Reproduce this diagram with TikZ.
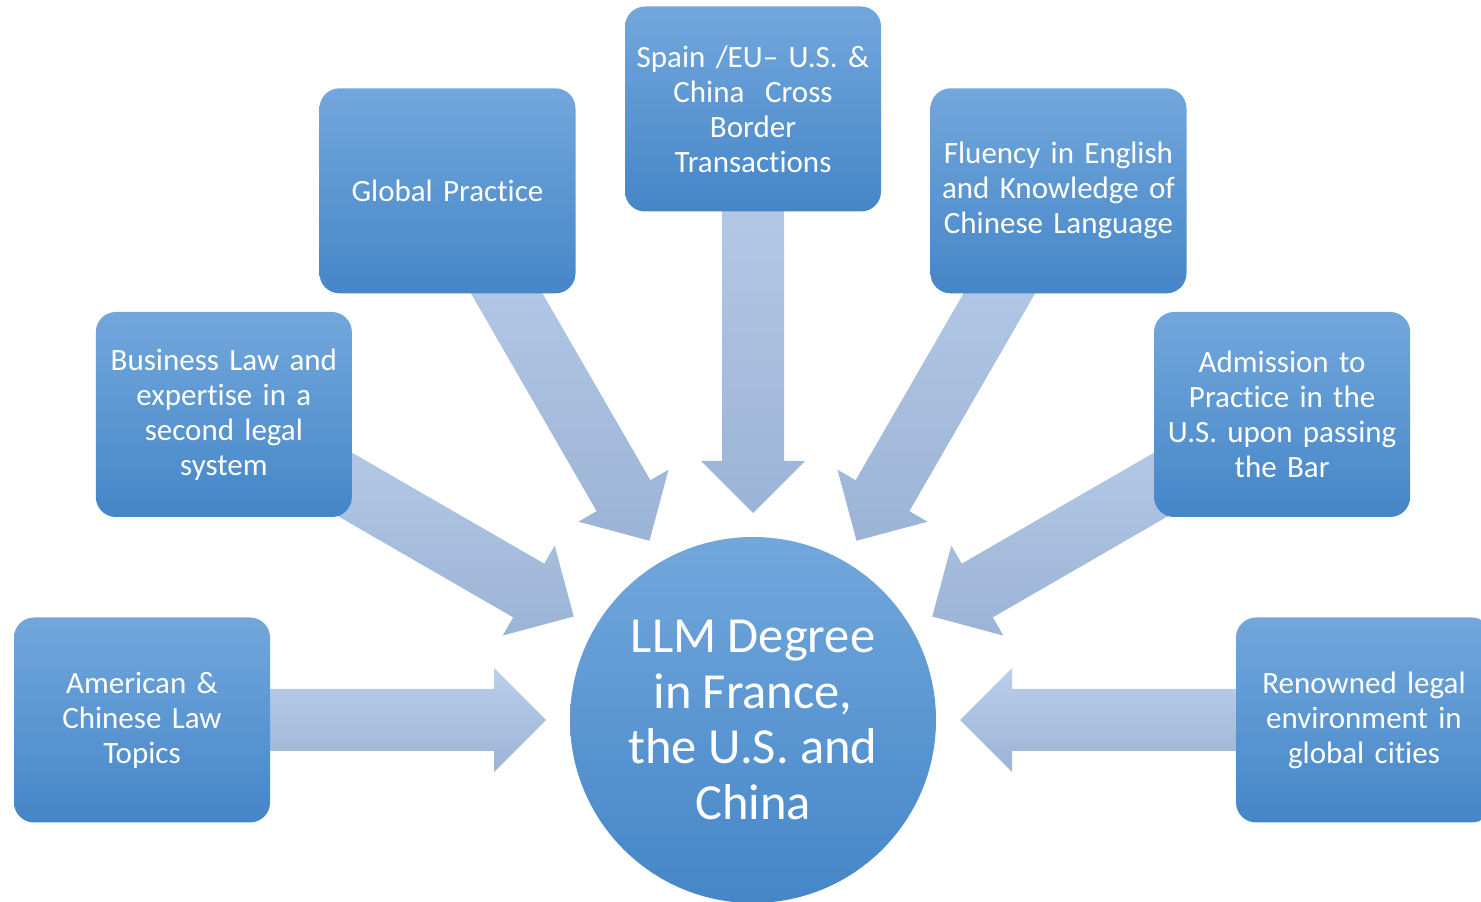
\documentclass[tikz,border=0pt]{standalone}
\usepackage{fontspec}
\setmainfont{Carlito}[Ligatures={NoCommon}]
\usetikzlibrary{calc,backgrounds}
\definecolor{boxtop}{HTML}{72A7DC}
\definecolor{boxbot}{HTML}{4586C8}
\definecolor{arrtop}{HTML}{BACFEB}
\definecolor{arrbot}{HTML}{9BB3D5}
\begin{document}
\begin{tikzpicture}[x=1pt,y=1pt,
  box/.style={rectangle, rounded corners=20pt, top color=boxtop, bottom color=boxbot,
    minimum width=256pt, minimum height=205pt, inner sep=0pt, text width=250pt,
    align=center, text=white, font=\fontsize{31}{35}\selectfont},
  hub/.style={circle, top color=boxtop, bottom color=boxbot, minimum size=366pt,
    inner sep=0pt, align=center, text=white, font=\fontsize{50.5}{55.5}\selectfont},
  arrowshade/.style={top color=arrtop, bottom color=arrbot, draw=none}]
\clip (0,0) rectangle (1481,902);
\node[hub] (hub) at (753,182) {LLM Degree\\in France,\\the U.S. and\\China};
\node[box] (am) at ($(hub)+(180:611)$) {American \&\\Chinese Law\\Topics};
\node[box] (bl) at ($(hub)+(150:611)$) {Business Law and\\expertise in a\\second legal\\system};
\node[box] (gp) at ($(hub)+(120:611)$) {Global Practice};
\node[box] (sp) at ($(hub)+(90:611)$) {Spain /EU– U.S. \&\\China~ Cross\\Border\\Transactions};
\node[box] (fl) at ($(hub)+(60:611)$) {Fluency in English\\and Knowledge of\\Chinese Language};
\node[box] (ad) at ($(hub)+(30:611)$) {Admission to\\Practice in the\\U.S. upon passing\\the Bar};
\node[box] (rn) at ($(hub)+(0:611)$) {Renowned legal\\environment in\\global cities};
\begin{scope}[on background layer]
\foreach \a/\n in {180/am,150/bl,120/gp,90/sp,60/fl,30/ad,0/rn}{
  \shade[arrowshade] ($(hub)+(\a:207)$) -- ($(hub)+(\a:259)+(\a+90:52)$)
    -- ($(hub)+(\a:259)+(\a+90:31)$) -- ($(\n)+(\a+90:31)$)
    -- ($(\n)+(\a-90:31)$) -- ($(hub)+(\a:259)+(\a-90:31)$)
    -- ($(hub)+(\a:259)+(\a-90:52)$) -- cycle;
}
\end{scope}
\end{tikzpicture}
\end{document}
